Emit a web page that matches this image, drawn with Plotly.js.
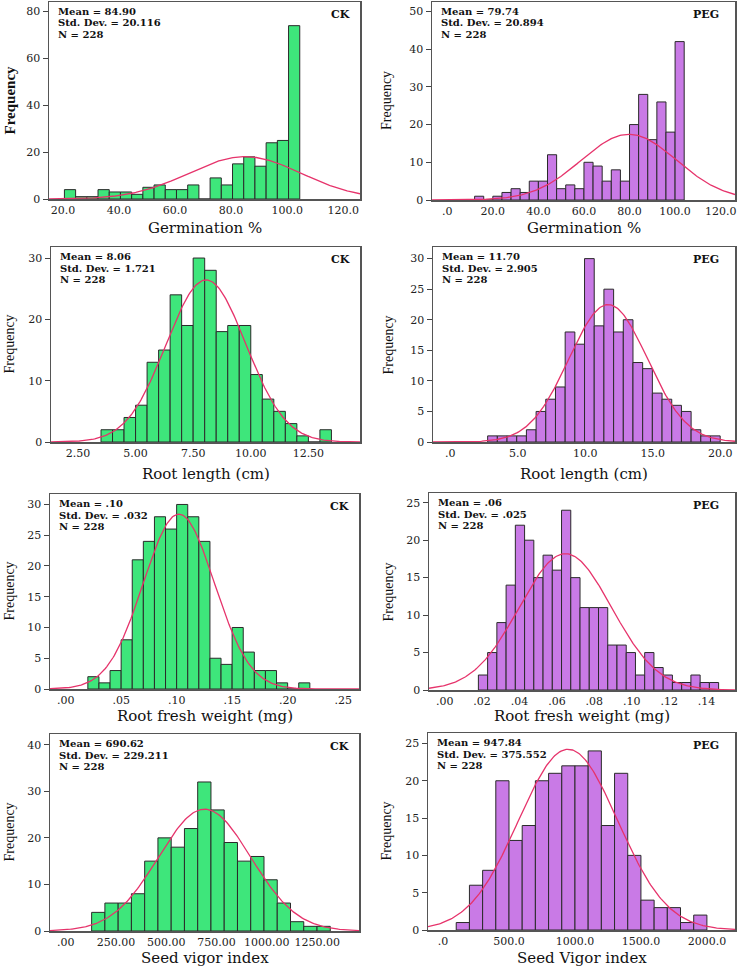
<!DOCTYPE html>
<html><head><meta charset="utf-8">
<script src="https://cdn.plot.ly/plotly-3.0.1.min.js"></script>
<style>html,body{margin:0;padding:0;background:#fff}#chart{width:741px;height:969px}</style>
</head><body><div id="chart"></div>
<script>
// ---------- DATA ----------
const groups = ['CK','PEG','CK','PEG','CK','PEG','CK','PEG'];
const xTitles = ['Germination %','Germination %','Root length (cm)','Root length (cm)',
  'Root fresh weight (mg)','Root fresh weight (mg)','Seed vigor index','Seed Vigor index'];

const germCK_counts  = [4,1,1,4,3,3,2,5,6,4,4,6,0,9,6,15,18,14,24,25,74];
const germPEG_counts = [1,0,1,2,3,2,5,5,12,3,4,3,10,9,5,8,5,20,28,16,26,18,42];
const rootCK_counts  = [2,2,4,6,13,15,24,19,30,28,18,19,19,11,7,5,3,1,0,2];
const rootPEG_counts = [1,1,1,1,2,5,7,9,18,16,30,19,25,18,20,13,12,8,7,6,5,2,1,1];
const rfwCK_counts   = [2,1,3,8,21,24,28,26,30,28,24,5,4,10,6,3,3,1,0,1];
const rfwPEG_counts  = [2,5,9,14,22,20,15,18,16,24,15,11,11,11,6,6,5,2,5,3,2,1,1,2,1,1];
const sviCK_counts   = [4,6,6,8,15,20,18,22,32,26,19,15,16,11,6,2,1,1];
const sviPEG_counts  = [1,6,8,20,12,14,20,21,22,22,24,14,21,10,4,3,3,1,2];

const binStart = [20.5, 12, 3.5, 2.77, 0.02, 0.018, 129, 100];
const binWidth = [4, 4, 0.5, 0.718, 0.01, 0.00494, 65.9, 100];

const means = [84.90, 79.74, 8.06, 11.70, 0.102, 0.0645, 690.62, 947.84];
const sds   = [20.116, 20.894, 1.721, 2.905, 0.032, 0.0247, 229.211, 375.552];
const Ns    = [228, 228, 228, 228, 228, 228, 228, 228];
const meanText = ['84.90','79.74','8.06','11.70','.10','.06','690.62','947.84'];
const sdText   = ['20.116','20.894','1.721','2.905','.032','.025','229.211','375.552'];

const xTickVals = [
  [20,40,60,80,100,120],
  [0,20,40,60,80,100,120],
  [2.5,5,7.5,10,12.5],
  [0,5,10,15,20],
  [0,0.05,0.10,0.15,0.20,0.25],
  [0,0.02,0.04,0.06,0.08,0.10,0.12,0.14],
  [0,250,500,750,1000,1250],
  [0,500,1000,1500,2000]
];
const xTickText = [
  ['20.0','40.0','60.0','80.0','100.0','120.0'],
  ['.0','20.0','40.0','60.0','80.0','100.0','120.0'],
  ['2.50','5.00','7.50','10.00','12.50'],
  ['.0','5.0','10.0','15.0','20.0'],
  ['.00','.05','.10','.15','.20','.25'],
  ['.00','.02','.04','.06','.08','.10','.12','.14'],
  ['.00','250.00','500.00','750.00','1000.00','1250.00'],
  ['.0','500.0','1000.0','1500.0','2000.0']
];
const yTickStep = [20,10,10,5,5,5,10,5];

const allCounts = [germCK_counts, germPEG_counts, rootCK_counts, rootPEG_counts,
  rfwCK_counts, rfwPEG_counts, sviCK_counts, sviPEG_counts];

// ---------- LAYOUT GEOMETRY (pixels) ----------
const W = 741, H = 969;
const boxes = [ // [left, right, top, bottom]
  [49,360,2,199],[432,735,2,200],
  [51,360,247,442],[433,735,247,442],
  [50,359,494,689],[429,735,493,690],
  [50,359,734,931],[428,735,733,930]
];
const xRanges = [[15,126],[-6.7,126.3],[1.33,14.74],[-1.28,21.1],
  [-0.0141,0.2643],[-0.0084,0.1552],[-78,1458],[-114,2213]];
const yRanges = [[0,84.1],[0,52.5],[0,31.8],[0,31.9],[0,31.7],[0,26.3],[0,42.3],[0,26.4]];
const xTitleY = [228,228,474,474,716,716,958,958];
const yTitleX = [10,387,9,388,9,388,9,386];

const GREEN = '#3ee67b', PURPLE = '#c97ae6', CURVE = '#e6336b';
const SERIF = 'Liberation Serif, Times New Roman, serif';
const WIDE = 'DejaVu Serif, serif';

const traces = [];
const layout = {
  width: W, height: H, margin: {l:0,r:0,t:0,b:0},
  paper_bgcolor: '#fff', plot_bgcolor: '#fff',
  showlegend: false, annotations: [],
  font: {family: WIDE, color: '#222'}
};

for (let i = 0; i < 8; i++) {
  const n = i + 1;
  const xa = n === 1 ? 'x' : 'x' + n;
  const ya = n === 1 ? 'y' : 'y' + n;
  const counts = allCounts[i];
  const centers = counts.map((c, k) => binStart[i] + binWidth[i] * (k + 0.5));
  traces.push({
    type: 'bar', x: centers, y: counts, width: binWidth[i],
    xaxis: xa, yaxis: ya,
    marker: {color: i % 2 === 0 ? GREEN : PURPLE, line: {color: '#2a2a2a', width: 1}},
    hoverinfo: 'x+y'
  });
  // fitted normal curve scaled to counts (N * bin width)
  const [x0, x1] = xRanges[i];
  const cx = [], cy = [];
  const amp = Ns[i] * binWidth[i] / (sds[i] * Math.sqrt(2 * Math.PI));
  for (let k = 0; k <= 240; k++) {
    const xv = x0 + (x1 - x0) * k / 240;
    cx.push(xv);
    cy.push(amp * Math.exp(-0.5 * Math.pow((xv - means[i]) / sds[i], 2)));
  }
  traces.push({type: 'scatter', mode: 'lines', x: cx, y: cy, xaxis: xa, yaxis: ya,
    line: {color: CURVE, width: 1.3}, hoverinfo: 'skip'});

  const [L, R, T, B] = boxes[i];
  const yTicks = [];
  for (let v = 0; v <= yRanges[i][1] + 1e-9; v += yTickStep[i]) yTicks.push(v);

  layout[n === 1 ? 'xaxis' : 'xaxis' + n] = {
    domain: [L / W, R / W], anchor: ya, range: xRanges[i],
    tickmode: 'array', tickvals: xTickVals[i], ticktext: xTickText[i],
    ticks: '', showgrid: false, zeroline: false,
    showline: true, mirror: true, linecolor: '#555', linewidth: 1.5,
    tickfont: {family: WIDE, size: 11, color: '#222'}
  };
  layout[n === 1 ? 'yaxis' : 'yaxis' + n] = {
    domain: [1 - B / H, 1 - T / H], anchor: xa, range: yRanges[i],
    tickmode: 'array', tickvals: yTicks,
    ticks: 'outside', ticklen: 5, tickcolor: '#444', tickwidth: 1,
    showgrid: false, zeroline: false,
    showline: true, mirror: true, linecolor: '#555', linewidth: 1.5,
    tickfont: {family: WIDE, size: 11, color: '#222'}
  };

  const sfont = {family: WIDE, size: 10, color: '#111', weight: 'bold'};
  const lines = ['Mean = ' + meanText[i], 'Std. Dev. = ' + sdText[i], 'N = ' + Ns[i]];
  lines.forEach((t, k) => {
    layout.annotations.push({
      text: t, xref: xa + ' domain', yref: ya + ' domain', x: 0, y: 1,
      xanchor: 'left', yanchor: 'top', xshift: 8, yshift: -(3 + k * 11.5),
      borderpad: 0, showarrow: false, font: sfont
    });
  });
  layout.annotations.push({
    text: groups[i], xref: xa + ' domain', yref: ya + ' domain', x: 1, y: 1,
    xanchor: 'right', yanchor: 'top', xshift: i % 2 === 0 ? -9 : -15, yshift: -5,
    borderpad: 0, showarrow: false, font: {family: WIDE, size: 11, color: '#111', weight: 'bold'}
  });
  // axis titles
  layout.annotations.push({
    text: xTitles[i], xref: 'paper', yref: 'paper',
    x: (L + R) / 2 / W, y: 1 - xTitleY[i] / H, xanchor: 'center', yanchor: 'middle',
    showarrow: false, font: {family: WIDE, size: 15, color: '#111'}
  });
  layout.annotations.push({
    text: 'Frequency', xref: 'paper', yref: 'paper', textangle: -90,
    x: yTitleX[i] / W, y: 1 - (T + B) / 2 / H, xanchor: 'center', yanchor: 'middle',
    showarrow: false,
    font: {family: SERIF, size: i === 0 ? 15 : 14, color: '#111', weight: i === 0 ? 'bold' : 'normal'}
  });
}

Plotly.newPlot('chart', traces, layout, {staticPlot: true, displayModeBar: false});
</script>
</body></html>
